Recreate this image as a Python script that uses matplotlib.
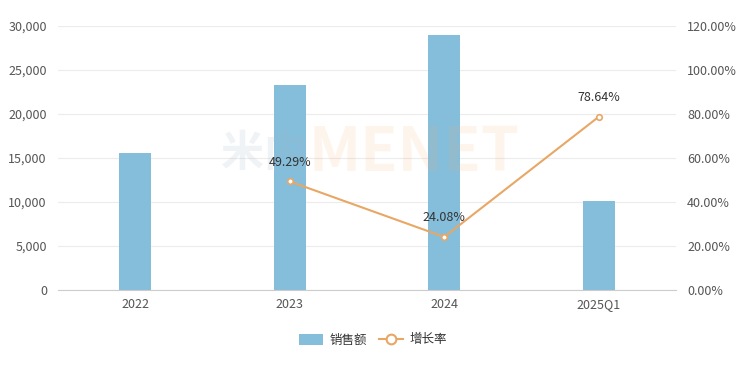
import matplotlib.pyplot as plt
from matplotlib.ticker import FuncFormatter, FixedLocator
from matplotlib.patches import Patch
from matplotlib.lines import Line2D

plt.rcParams['font.family'] = ['Noto Sans CJK SC', 'DejaVu Sans']

categories = ['2022', '2023', '2024', '2025Q1']
sales = [15600, 23300, 28950, 10150]
growth_x = ['2023', '2024', '2025Q1']
growth = [49.29, 24.08, 78.64]

bar_color = '#85bedb'
line_color = '#e8a765'
text_color = '#555555'

fig = plt.figure(figsize=(7.46, 3.66), dpi=100, facecolor='white')
ax = fig.add_axes([58 / 746, 1 - 290 / 366, 618 / 746, 264.3 / 366])
ax2 = ax.twinx()

x = list(range(len(categories)))
ax.bar(x, sales, width=0.21, color=bar_color, zorder=2)
ax.set_xlim(-0.5, len(categories) - 0.5)
ax.set_ylim(0, 30000)
ax.yaxis.set_major_locator(FixedLocator(range(0, 30001, 5000)))
ax.yaxis.set_major_formatter(FuncFormatter(lambda v, p: f'{int(v):,}'))
ax.set_xticks(x)
ax.set_xticklabels(categories)
ax.grid(axis='y', color='#ececec', lw=0.8, zorder=0)
ax.set_axisbelow(True)
for s in ['top', 'right', 'left']:
    ax.spines[s].set_visible(False)
ax.spines['bottom'].set_color('#cccccc')
ax.tick_params(axis='y', length=0, pad=8, labelsize=9, labelcolor=text_color)
ax.tick_params(axis='x', length=0, pad=6, labelsize=9, labelcolor=text_color)

# 水印 (在折线和标签下面)
wm_y = 1 - (153 - 25.7) / 264.3
ax2.text((221 - 58) / 618, wm_y, '米内', transform=ax2.transAxes, fontsize=31,
         fontweight='bold', color='#9bb5c3', alpha=0.15, ha='left', va='center', zorder=1)
ax2.text((309 - 58) / 618, wm_y, 'MENET', transform=ax2.transAxes, fontsize=44,
         fontweight='bold', color='#f5a66a', alpha=0.12, ha='left', va='center', zorder=1)

gx = [categories.index(c) for c in growth_x]
ax2.plot(gx, growth, color=line_color, lw=1.5, marker='o', markersize=4,
         markerfacecolor='white', markeredgecolor=line_color, markeredgewidth=1.2, zorder=4)
for xi, g in zip(gx, growth):
    ax2.annotate(f'{g:.2f}%', (xi, g), xytext=(0, 9), textcoords='offset points',
                 ha='center', va='bottom', fontsize=9, color='#333333', zorder=5)
ax2.set_ylim(0, 120)
ax2.yaxis.set_major_locator(FixedLocator(range(0, 121, 20)))
ax2.yaxis.set_major_formatter(FuncFormatter(lambda v, p: f'{v:.2f}%'))
for s in ax2.spines.values():
    s.set_visible(False)
ax2.tick_params(axis='y', length=0, pad=8, labelsize=9, labelcolor=text_color)

# legend
handles = [Patch(facecolor=bar_color, edgecolor='none', label='销售额'),
           Line2D([0], [0], color=line_color, lw=1.5, marker='o', markersize=7,
                  markerfacecolor='white', markeredgecolor=line_color,
                  markeredgewidth=1.5, label='增长率')]
fig.legend(handles=handles, loc='center', bbox_to_anchor=(0.5, 1 - 340 / 366), ncol=2,
           frameon=False, fontsize=9, labelcolor='#333333', handlelength=1.9,
           handleheight=1.0, columnspacing=1.0, handletextpad=0.5)

fig.savefig('out.png', dpi=100)
